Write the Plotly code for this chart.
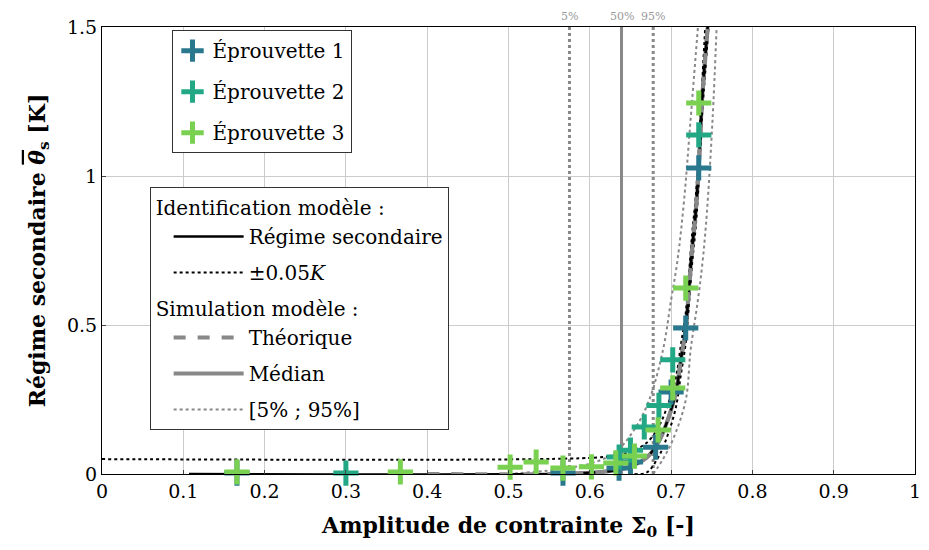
import plotly.graph_objects as go

# essais
ep1_x = [0.166, 0.567, 0.636, 0.650, 0.681, 0.700, 0.718, 0.734]
ep1_y = [0.003, 0.003, 0.020, 0.040, 0.090, 0.275, 0.490, 1.027]
ep2_x = [0.300, 0.636, 0.650, 0.667, 0.685, 0.702, 0.734]
ep2_y = [0.003, 0.057, 0.080, 0.158, 0.230, 0.383, 1.138]
ep3_x = [0.166, 0.367, 0.502, 0.534, 0.567, 0.602, 0.632, 0.655, 0.684, 0.702, 0.718, 0.734]
ep3_y = [0.007, 0.007, 0.023, 0.040, 0.020, 0.024, 0.037, 0.060, 0.148, 0.289, 0.624, 1.245]

# identification modele
modele_x = [0.107, 0.55, 0.60, 0.63, 0.65, 0.67, 0.685, 0.697, 0.706, 0.712, 0.718, 0.722, 0.726, 0.730, 0.734, 0.738, 0.742, 0.745]
modele_y = [0.0, 0.0, 0.004, 0.012, 0.025, 0.055, 0.11, 0.19, 0.275, 0.383, 0.49, 0.62, 0.76, 0.87, 1.03, 1.25, 1.40, 1.50]
sup_x = [0.0, 0.60, 0.63, 0.65, 0.67, 0.685, 0.697, 0.706, 0.712, 0.718, 0.722, 0.726, 0.730, 0.734, 0.738, 0.742]
sup_y = [0.05, 0.054, 0.062, 0.075, 0.105, 0.16, 0.24, 0.325, 0.433, 0.54, 0.67, 0.81, 0.92, 1.08, 1.30, 1.50]
inf_x = [0.655, 0.67, 0.685, 0.697, 0.706, 0.712, 0.718, 0.722, 0.726, 0.730, 0.734, 0.738, 0.742, 0.746]
inf_y = [0.0, 0.005, 0.06, 0.14, 0.225, 0.333, 0.44, 0.57, 0.71, 0.82, 0.98, 1.20, 1.35, 1.50]

# simulation modele
theo_x = [0.40, 0.55, 0.60, 0.63, 0.65, 0.67, 0.685, 0.697, 0.706, 0.712, 0.718, 0.722, 0.726, 0.730, 0.734, 0.738, 0.742, 0.745]
theo_y = [0.0, 0.0, 0.004, 0.012, 0.025, 0.055, 0.11, 0.19, 0.275, 0.383, 0.49, 0.62, 0.76, 0.87, 1.03, 1.25, 1.40, 1.50]
med_x = [0.55, 0.60, 0.63, 0.65, 0.67, 0.685, 0.697, 0.706, 0.712, 0.718, 0.722, 0.726, 0.730, 0.734, 0.738, 0.742, 0.745]
med_y = [0.0, 0.004, 0.012, 0.025, 0.055, 0.11, 0.19, 0.275, 0.383, 0.49, 0.62, 0.76, 0.87, 1.03, 1.25, 1.40, 1.50]
p5_x = [0.50, 0.56, 0.60, 0.63, 0.655, 0.673, 0.69, 0.700, 0.708, 0.716, 0.724, 0.733]
p5_y = [0.0, 0.015, 0.035, 0.07, 0.15, 0.248, 0.416, 0.584, 0.72, 0.92, 1.19, 1.50]
p95_x = [0.678, 0.69, 0.702, 0.718, 0.724, 0.733, 0.739, 0.744, 0.751, 0.756]
p95_y = [0.0, 0.05, 0.114, 0.248, 0.416, 0.584, 0.72, 0.876, 1.19, 1.50]

quantile_x = [0.575, 0.639, 0.678]
quantile_lbl = ["5%", "50%", "95%"]

x_ticks = [0, 0.1, 0.2, 0.3, 0.4, 0.5, 0.6, 0.7, 0.8, 0.9, 1]
x_labels = ["0", "0.1", "0.2", "0.3", "0.4", "0.5", "0.6", "0.7", "0.8", "0.9", "1"]
y_ticks = [0, 0.5, 1, 1.5]
y_labels = ["0", "0.5", "1", "1.5"]

serif = "DejaVu Serif"
gris = "#888888"
couleurs = ["#2a788e", "#22a884", "#7ad151"]

fig = go.Figure()

# lignes verticales des quantiles
for q, lbl in zip(quantile_x, quantile_lbl):
    fig.add_trace(go.Scatter(x=[q, q], y=[0, 1.5], mode="lines", showlegend=False,
                             line=dict(color=gris, width=3,
                                       dash="solid" if lbl == "50%" else "dot"),
                             hoverinfo="skip"))
    fig.add_annotation(x=q, y=1, xref="x", yref="paper", yanchor="bottom", yshift=2,
                       text=lbl, showarrow=False, font=dict(family=serif, size=11, color="#999999"))

leg2 = dict(legend="legend2")

fig.add_trace(go.Scatter(x=med_x, y=med_y, mode="lines", name="Médian",
                         line=dict(color=gris, width=4, shape="spline"),
                         legendgroup="g4", legendrank=4, **leg2))
fig.add_trace(go.Scatter(x=p5_x, y=p5_y, mode="lines", name="[5% ; 95%]",
                         line=dict(color=gris, width=2, dash="dot", shape="spline"),
                         legendgroup="g5", legendrank=5, **leg2))
fig.add_trace(go.Scatter(x=p95_x, y=p95_y, mode="lines", showlegend=False,
                         line=dict(color=gris, width=2, dash="dot", shape="spline"),
                         legendgroup="g5", **leg2))

fig.add_trace(go.Scatter(x=modele_x, y=modele_y, mode="lines", name="Régime secondaire",
                         line=dict(color="black", width=2.5, shape="spline"),
                         legendgroup="g1", legendrank=1,
                         legendgrouptitle_text="Identification modèle :", **leg2))
fig.add_trace(go.Scatter(x=sup_x, y=sup_y, mode="lines", name="±0.05<i>K</i>",
                         line=dict(color="black", width=2, dash="dot", shape="spline"),
                         legendgroup="g2", legendrank=2, **leg2))
fig.add_trace(go.Scatter(x=inf_x, y=inf_y, mode="lines", showlegend=False,
                         line=dict(color="black", width=2, dash="dot", shape="spline"),
                         legendgroup="g2", **leg2))

fig.add_trace(go.Scatter(x=theo_x, y=theo_y, mode="lines", name="Théorique",
                         line=dict(color=gris, width=4, dash="dash", shape="spline"),
                         legendgroup="g3", legendrank=3,
                         legendgrouptitle_text="Simulation modèle :", **leg2))

for i, (xs, ys) in enumerate([(ep1_x, ep1_y), (ep2_x, ep2_y), (ep3_x, ep3_y)]):
    fig.add_trace(go.Scatter(x=xs, y=ys, mode="markers", name=f"Éprouvette {i + 1}",
                             cliponaxis=False, legendgroup=f"e{i}", legendrank=i + 1,
                             marker=dict(symbol="cross-thin", size=18,
                                         line=dict(width=5, color=couleurs[i]))))

fig.update_layout(
    width=929, height=550,
    margin=dict(l=102, r=8, t=27, b=76),
    plot_bgcolor="white", paper_bgcolor="white",
    font=dict(family=serif, size=19, color="black"),
    legend=dict(x=0.0855, y=0.993, xanchor="left", yanchor="top",
                bordercolor="#333333", borderwidth=1, bgcolor="white",
                font=dict(size=20), traceorder="grouped", tracegroupgap=12,
                itemwidth=30),
    legend2=dict(x=0.0586, y=0.642, xanchor="left", yanchor="top",
                 bordercolor="#333333", borderwidth=1, bgcolor="white",
                 font=dict(size=20), traceorder="grouped", tracegroupgap=7,
                 grouptitlefont=dict(size=20), itemwidth=70, indentation=18),
    xaxis=dict(range=[0, 1], tickvals=x_ticks, ticktext=x_labels,
               ticklabeloverflow="allow",
               showgrid=True, gridcolor="#cccccc", zeroline=False,
               showline=True, linecolor="black", linewidth=1, mirror=True,
               ticks="inside", ticklen=4,
               title=dict(text="<b>Amplitude de contrainte Σ<sub>0</sub> [-]</b>",
                          font=dict(size=22), standoff=16)),
    yaxis=dict(range=[0, 1.5], tickvals=y_ticks, ticktext=y_labels,
               showgrid=True, gridcolor="#cccccc", zeroline=False,
               showline=True, linecolor="black", linewidth=1, mirror=True,
               ticks="inside", ticklen=4,
               title=dict(text="<b>Régime secondaire <span style=\"text-decoration:overline\"><i>θ</i></span><sub>s</sub> [K]</b>",
                          font=dict(size=22))),
)

# pas de marge de page autour du graphe
fig.write_html("out.html", config={"displayModeBar": False},
               post_script="document.body.style.margin = '0'; document.body.style.overflow = 'hidden';")
